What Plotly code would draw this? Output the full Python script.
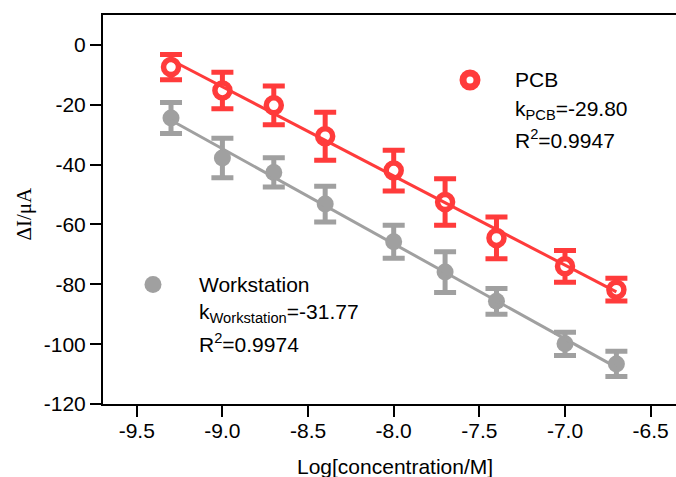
import plotly.graph_objects as go
import numpy as np

# Log concentration (M) for each calibration level
log_conc = [-9.3, -9.0, -8.7, -8.4, -8.0, -7.7, -7.4, -7.0, -6.7]

# Current change (uA) and standard deviations
pcb_di = [-7.4, -15.2, -20.2, -30.5, -42.0, -52.5, -64.5, -74.0, -81.8]
pcb_err = [4.2, 6.1, 6.5, 8.0, 6.8, 7.8, 7.0, 5.3, 3.8]
ws_di = [-24.4, -37.8, -42.6, -53.2, -65.8, -75.9, -85.7, -99.9, -106.6]
ws_err = [5.2, 6.6, 4.9, 6.0, 5.5, 6.8, 4.3, 3.9, 4.2]

# Fitted slopes and coefficients of determination
pcb_slope = -29.80
pcb_r2 = "0.9947"
ws_slope = -31.77
ws_r2 = "0.9974"

x_ticks = [-9.5, -9.0, -8.5, -8.0, -7.5, -7.0, -6.5]
x_tick_text = ["-9.5", "-9.0", "-8.5", "-8.0", "-7.5", "-7.0", "-6.5"]
y_ticks = [0, -20, -40, -60, -80, -100, -120]
y_tick_text = ["0", "-20", "-40", "-60", "-80", "-100", "-120"]

RED = "#FF3B3B"
GREY = "#A0A0A0"
FONT = "Liberation Sans, Arial, sans-serif"

W, H = 676, 477
ML, MR, MT, MB = 103, 0, 15, 73


def paper_x(px):
    return (px - ML) / (W - ML - MR)


def paper_y(py):
    return (H - MB - py) / (H - MB - MT)


def fit_line(x, y, slope):
    x = np.asarray(x, float)
    y = np.asarray(y, float)
    b = y.mean() - slope * x.mean()
    xs = np.array([x.min(), x.max()])
    return xs, slope * xs + b


fig = go.Figure()

# Workstation data with error bars
fig.add_trace(go.Scatter(
    x=log_conc, y=ws_di, mode="markers",
    marker=dict(symbol="circle", size=17, color=GREY, line=dict(width=0)),
    error_y=dict(type="data", array=ws_err, visible=True, color=GREY,
                 thickness=5, width=11),
    showlegend=False, cliponaxis=False,
))
# PCB data with error bars
fig.add_trace(go.Scatter(
    x=log_conc, y=pcb_di, mode="markers",
    marker=dict(symbol="circle", size=15, color="white",
                line=dict(color=RED, width=5.5)),
    error_y=dict(type="data", array=pcb_err, visible=True, color=RED,
                 thickness=5, width=11),
    showlegend=False, cliponaxis=False,
))

# Linear fits
for xs_src, ys_src, k, col in [(log_conc, ws_di, ws_slope, GREY),
                               (log_conc, pcb_di, pcb_slope, RED)]:
    lx, ly = fit_line(xs_src, ys_src, k)
    fig.add_trace(go.Scatter(x=lx, y=ly, mode="lines",
                             line=dict(color=col, width=3),
                             showlegend=False, hoverinfo="skip"))

# Legend keys on an overlay axis spanning the plot area
fig.add_trace(go.Scatter(
    x=[paper_x(470)], y=[paper_y(80)], xaxis="x2", yaxis="y2", mode="markers",
    marker=dict(symbol="circle", size=14, color="white",
                line=dict(color=RED, width=7)),
    showlegend=False, hoverinfo="skip", cliponaxis=False))
fig.add_trace(go.Scatter(
    x=[paper_x(153)], y=[paper_y(284.5)], xaxis="x2", yaxis="y2", mode="markers",
    marker=dict(symbol="circle", size=17, color=GREY, line=dict(width=0)),
    showlegend=False, hoverinfo="skip", cliponaxis=False))

annos = []


def label(text, px, py, size=21, family=FONT, **kw):
    annos.append(dict(text=text, x=paper_x(px), y=paper_y(py),
                      xref="paper", yref="paper", showarrow=False,
                      font=dict(family=family, size=size, color="black"),
                      **kw))


label("PCB", 513, 79.5, xanchor="left", yanchor="middle")
label(f"k<sub>PCB</sub>={pcb_slope:.2f}", 513, 110, xanchor="left", yanchor="middle")
label(f"R<sup>2</sup>={pcb_r2}", 513, 138.5, xanchor="left", yanchor="middle")
label("Workstation", 197, 284.5, xanchor="left", yanchor="middle")
label(f"k<sub>Workstation</sub>={ws_slope:.2f}", 197, 312.5, xanchor="left", yanchor="middle")
label(f"R<sup>2</sup>={ws_r2}", 197, 343, xanchor="left", yanchor="middle")

# Axis titles
label("Log[concentration/M]", 394.5, 466, xanchor="center", yanchor="middle")
label("ΔI/μA", 23.5, 214, family="Liberation Serif, Times New Roman, serif",
      textangle=-90, xanchor="center", yanchor="middle")

axis_common = dict(
    showline=True, linecolor="black", linewidth=2,
    ticks="outside", ticklen=11, tickwidth=2, tickcolor="black",
    showgrid=False, zeroline=False,
    tickfont=dict(family=FONT, size=21, color="black"),
)

fig.update_layout(
    width=W, height=H,
    margin=dict(l=ML, r=MR, t=MT, b=MB, pad=0),
    paper_bgcolor="white", plot_bgcolor="white",
    xaxis=dict(range=[-9.697, -6.352], tickvals=x_ticks, ticktext=x_tick_text,
               mirror=True, ticklabelstandoff=-4, **axis_common),
    yaxis=dict(range=[-120, 10], tickvals=y_ticks, ticktext=y_tick_text,
               **axis_common),
    xaxis2=dict(overlaying="x", anchor="y2", range=[0, 1], visible=False,
                fixedrange=True),
    yaxis2=dict(overlaying="y", anchor="x2", range=[0, 1], visible=False,
                fixedrange=True),
    annotations=annos,
    showlegend=False,
)

fig.write_html("out.html")
